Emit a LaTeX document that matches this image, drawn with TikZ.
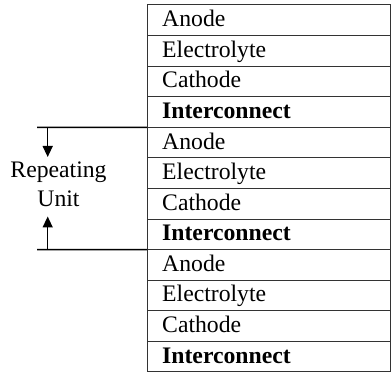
\documentclass[tikz,border=0pt]{standalone}
\usepackage{fontspec}
\setmainfont{Liberation Serif}
\usetikzlibrary{arrows.meta,calc}
\begin{document}
\begin{tikzpicture}[x=1pt,y=-1pt,
  cell/.style={draw=black!80, line width=1pt, minimum width=243.3pt, minimum height=30.58pt, anchor=north west, inner sep=0pt, outer sep=0pt},
  lbl/.style={anchor=base west, font=\fontsize{23.7}{28}\selectfont, inner sep=0pt},
  side/.style={anchor=base, font=\fontsize{23.7}{28}\selectfont, inner sep=0pt},
  bracket/.style={line width=1.4pt},
  arr/.style={line width=1.4pt, -{Triangle[length=11pt,width=10pt]}}]
\useasboundingbox (0,0) rectangle (391,374);
\foreach \i/\txt in {1/Anode,2/Electrolyte,3/Cathode,4/\textbf{Interconnect},
                     5/Anode,6/Electrolyte,7/Cathode,8/\textbf{Interconnect},
                     9/Anode,10/Electrolyte,11/Cathode,12/\textbf{Interconnect}}{
  \node[cell] (r\i) at (147,{5+(\i-1)*30.583}) {};
  \node[lbl] (t\i) at ($(r\i.north west)+(15,21.7)$) {\txt};
}
% repeating unit bracket
\coordinate (b1) at (37,127.33);
\coordinate (b2) at (37,249.67);
\draw[bracket] (b1) -- (r4.south west);
\draw[bracket] (b2) -- (r8.south west);
\coordinate (a1s) at (47.7,127.33);
\coordinate (a1e) at (47.7,157);
\coordinate (a2s) at (47.7,249.67);
\coordinate (a2e) at (47.7,216.5);
\draw[arr] (a1s) -- (a1e);
\draw[arr] (a2s) -- (a2e);
\node[side] (rep) at (58.5,178) {Repeating};
\node[side] (unit) at (58.5,207) {Unit};
\end{tikzpicture}
\end{document}
